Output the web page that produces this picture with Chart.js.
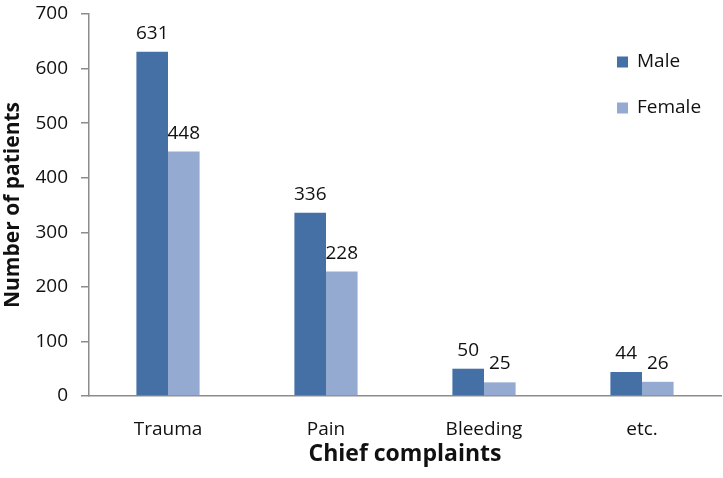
<!DOCTYPE html>
<html>
<head>
<meta charset="utf-8">
<script src="https://cdn.jsdelivr.net/npm/chart.js@4/dist/chart.umd.min.js"></script>
<style>
  html, body { margin: 0; padding: 0; background: #fff; }
  #wrap { width: 723px; height: 478px; position: relative; }
</style>
</head>
<body>
<div id="wrap"><canvas id="chart" width="723" height="478"></canvas></div>
<script>
// chart data
const categories = ['Trauma', 'Pain', 'Bleeding', 'etc.'];
const maleValues = [631, 336, 50, 44];
const femaleValues = [448, 228, 25, 26];
const seriesNames = ['Male', 'Female'];
const yTicks = [0, 100, 200, 300, 400, 500, 600, 700];

const FONT = '"Open Sans", "Liberation Sans", sans-serif';
const AXIS_GRAY = '#8c8c8c';
const TEXT = '#111';

// value labels above each bar
const valueLabels = {
    id: 'valueLabels',
    afterDatasetsDraw(chart) {
        const ctx = chart.ctx;
        ctx.save();
        ctx.font = '19px ' + FONT;
        ctx.fillStyle = TEXT;
        ctx.textAlign = 'center';
        ctx.textBaseline = 'alphabetic';
        chart.data.datasets.forEach((ds, i) => {
            chart.getDatasetMeta(i).data.forEach((bar, j) => {
                ctx.fillText(String(ds.data[j]), bar.x, bar.y - 13);
            });
        });
        ctx.restore();
    }
};

// legend drawn at top right, over the plot like the original
const sideLegend = {
    id: 'sideLegend',
    afterDraw(chart) {
        const ctx = chart.ctx;
        ctx.save();
        ctx.font = '19px ' + FONT;
        ctx.textBaseline = 'middle';
        ctx.textAlign = 'left';
        chart.data.datasets.forEach((ds, i) => {
            const y = 62 + i * 46;
            ctx.fillStyle = ds.backgroundColor;
            ctx.fillRect(617, y - 5.5, 11, 11);
            ctx.fillStyle = TEXT;
            ctx.fillText(ds.label, 637, y);
        });
        ctx.restore();
    }
};

new Chart(document.getElementById('chart'), {
    type: 'bar',
    data: {
        labels: categories,
        datasets: [
            { label: seriesNames[0], data: maleValues, backgroundColor: '#4470a6' },
            { label: seriesNames[1], data: femaleValues, backgroundColor: '#95aad1' }
        ]
    },
    options: {
        responsive: false,
        animation: false,
        layout: { autoPadding: false, padding: { top: 14, right: 2, left: 0, bottom: 10 } },
        datasets: { bar: { categoryPercentage: 0.4, barPercentage: 1.0 } },
        plugins: {
            legend: { display: false },
            tooltip: { enabled: false }
        },
        scales: {
            x: {
                grid: { display: false },
                border: { display: true, color: AXIS_GRAY, width: 1.5 },
                ticks: { color: TEXT, font: { family: FONT, size: 19 }, padding: 14 },
                title: {
                    display: true,
                    text: 'Chief complaints',
                    color: TEXT,
                    font: { family: FONT, size: 23, weight: 'bold' },
                    padding: { top: 0, bottom: 0 }
                },
                afterFit(scale) {
                    scale.height = 72;
                    scale.paddingLeft = 0;
                    scale.paddingRight = 0;
                }
            },
            y: {
                min: 0,
                max: 700,
                afterBuildTicks(scale) { scale.ticks = yTicks.map(v => ({ value: v })); },
                grid: { drawOnChartArea: false, drawTicks: true, tickLength: 8, color: AXIS_GRAY, lineWidth: 1.5 },
                border: { display: true, color: AXIS_GRAY, width: 1.5 },
                ticks: { color: TEXT, font: { family: FONT, size: 19 }, padding: 13 },
                title: {
                    display: true,
                    text: 'Number of patients',
                    color: TEXT,
                    font: { family: FONT, size: 21, weight: 'bold' },
                    padding: { top: 0, bottom: 0 }
                },
                afterFit(scale) {
                    scale.width = 89;
                    // let the top tick sit at the layout padding, not below it
                    scale.paddingTop = 0;
                    scale.paddingBottom = 0;
                }
            }
        }
    },
    plugins: [valueLabels, sideLegend]
});
</script>
</body>
</html>
